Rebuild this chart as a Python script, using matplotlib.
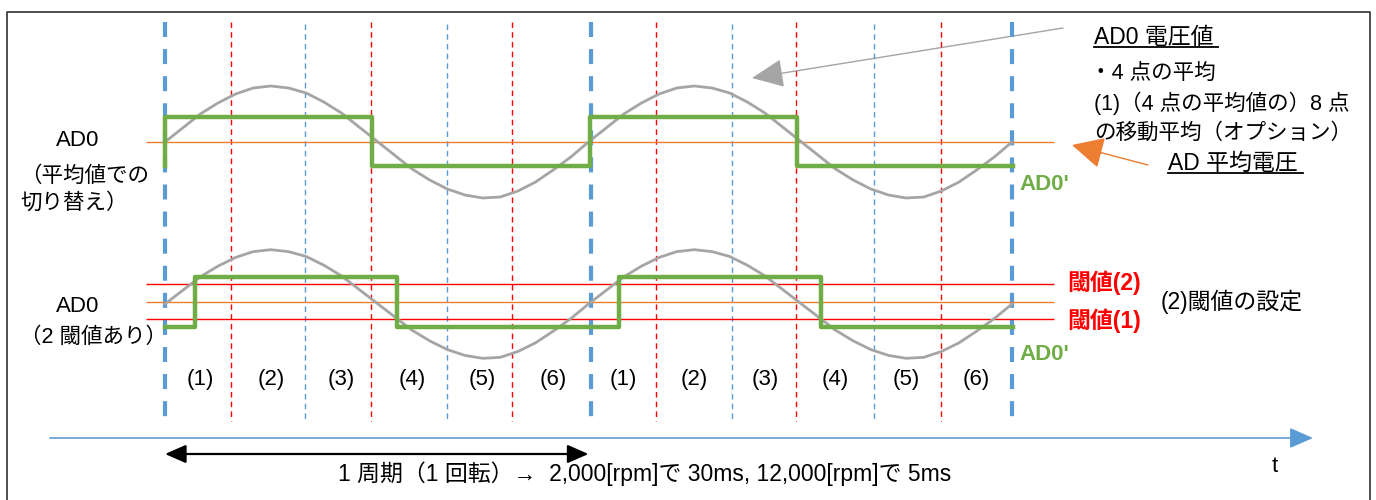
import matplotlib
matplotlib.use("Agg")
import matplotlib.pyplot as plt
import numpy as np

plt.rcParams['font.family'] = ['Liberation Sans', 'Noto Sans CJK JP', 'DejaVu Sans']

# time axis in sampling segments (6 segments = 1 revolution)
thick_t = [0.0, 6.04, 12.0]
red_t = [0.935, 2.92, 4.92, 6.96, 8.94, 10.99]
blue_t = [1.98, 4.0, 8.03, 10.05]

# one revolution of the AD0 voltage (offset from mean level), read every 0.25 segment
wave_t = [0, 0.25, 0.5, 0.75, 1, 1.25, 1.5, 1.75, 2, 2.25, 2.5, 2.75, 3,
          3.25, 3.5, 3.75, 4, 4.25, 4.5, 4.75, 5, 5.25, 5.5, 5.75, 6]
wave_v = [0, 14, 28, 39, 48, 54, 56, 54, 49, 40, 29, 15, 1,
          -13, -27, -38, -47, -53, -56, -55, -49, -40, -28, -15, 0]

# upper panel: switching at the average value
avg_level = 142
ad0_hi, ad0_lo = 117, 166
step1_t = [0, 0, 2.93, 6.02, 8.95, 12.02]
step1_v = [ad0_lo, ad0_hi, ad0_lo, ad0_hi, ad0_lo, ad0_lo]

# lower panel: two thresholds
avg2_level = 302
thr2_level, thr1_level = 284, 319
ad2_hi, ad2_lo = 277, 327
step2_t = [0, 0.43, 3.29, 6.43, 9.29, 12.02]
step2_v = [ad2_lo, ad2_hi, ad2_lo, ad2_hi, ad2_lo, ad2_lo]

seg_labels = ['(1)', '(2)', '(3)', '(4)', '(5)', '(6)'] * 2
seg_label_t = [0.5, 1.5, 2.5, 3.5, 4.5, 5.5, 6.5, 7.5, 8.5, 9.5, 10.5, 11.5]

GREEN = '#70AD47'
GRAY = '#A5A5A5'
ORANGE = '#ED7D31'
RED = '#FF0000'
BLUE = '#5B9BD5'

W, H = 1376, 500
X0, SEG = 165, 70.58

fig = plt.figure(figsize=(W / 100, H / 100), dpi=100)
ov = fig.add_axes([0, 0, 1, 1])
ov.set_xlim(0, W)
ov.set_ylim(H, 0)
ov.axis('off')
ax = fig.add_axes([0, 0, 1, 1])
ax.set_xlim(-X0 / SEG, (W - X0) / SEG)
ax.set_ylim(H, 0)
ax.axis('off')
ax.patch.set_visible(False)

# frame
ov.plot([7, 7, 1370, 1370], [510, 12, 12, 510], color='#404040', lw=1.3)

# vertical grid
ax.vlines(red_t, 22, 421, color=RED, lw=1.0, linestyles=(0, (4, 3)))
ax.vlines(blue_t, 24, 421, color=BLUE, lw=1.0, linestyles=(0, (4, 3)))
ax.vlines(thick_t, 22, 421, color=BLUE, lw=3.0, linestyles=(0, (3.6, 2.9)))

# horizontal levels
xa, xb = (146 - X0) / SEG, (1054 - X0) / SEG
ax.hlines([avg_level], xa, xb, color=ORANGE, lw=1.0)
ax.hlines([thr2_level, thr1_level], xa, xb, color=RED, lw=1.0)
ax.hlines([avg2_level], xa, xb, color=ORANGE, lw=1.0)

# AD0 waves (two revolutions)
wt = np.concatenate([wave_t, np.array(wave_t[1:]) + 6])
wv = np.concatenate([wave_v, wave_v[1:]])
ax.plot(wt, avg_level - wv, color=GRAY, lw=2.0, solid_capstyle='round')
ax.plot(wt, avg2_level + 2 - np.array(wv) * 0.97, color=GRAY, lw=2.0, solid_capstyle='round')

# AD0' steps
ax.plot(step1_t, step1_v, drawstyle='steps-post', color=GREEN, lw=3.2)
ax.plot(step2_t, step2_v, drawstyle='steps-post', color=GREEN, lw=3.2)

fs = 16
for lab, t in zip(seg_labels, seg_label_t):
    ax.text(t, 380, lab, ha='center', va='center', fontsize=fs)

# time axis and period arrow
ax.annotate('', xy=((1313 - X0) / SEG, 438), xytext=((50 - X0) / SEG, 438),
            arrowprops=dict(arrowstyle='-|>,head_length=0.8,head_width=0.35', color=BLUE,
                            lw=1.2, mutation_scale=18, shrinkA=0, shrinkB=0))
ax.annotate('', xy=(0.0, 454), xytext=(6.0, 454),
            arrowprops=dict(arrowstyle='<|-|>,head_length=0.8,head_width=0.35', color='black',
                            lw=1.6, mutation_scale=16, shrinkA=0, shrinkB=0))

ov.text(338, 474, '1 周期（1 回転）→  2,000[rpm]で 30ms, 12,000[rpm]で 5ms', ha='left', va='center', fontsize=16.5)
ov.text(1275, 467, 't', ha='center', va='center', fontsize=fs)

# left labels
ov.text(78, 140, 'AD0', ha='center', va='center', fontsize=fs)
ov.text(20, 176, '（平均値での', ha='left', va='center', fontsize=15.5)
ov.text(20, 203, '切り替え）', ha='left', va='center', fontsize=15.5)
ov.text(78, 306, 'AD0', ha='center', va='center', fontsize=fs)
ov.text(20, 337, '（2 閾値あり）', ha='left', va='center', fontsize=15.5)

# right labels
ov.text(1094, 37, 'AD0 電圧値', ha='left', va='center', fontsize=16.5)
ov.plot([1094, 1218], [47, 47], color='black', lw=1.3)
ov.text(1090, 73, '・4 点の平均', ha='left', va='center', fontsize=15.5)
ov.text(1094, 103, '(1)（4 点の平均値の）8 点', ha='left', va='center', fontsize=15.5)
ov.text(1094, 133, 'の移動平均（オプション）', ha='left', va='center', fontsize=15.5)
ov.text(1168, 163, 'AD 平均電圧', ha='left', va='center', fontsize=16.5)
ov.plot([1168, 1303], [173, 173], color='black', lw=1.3)

ov.text(1019, 185, "AD0'", ha='left', va='center', fontsize=16, color=GREEN, fontweight='bold')
ov.text(1019, 354, "AD0'", ha='left', va='center', fontsize=16, color=GREEN, fontweight='bold')
ov.text(1067, 283, '閾値(2)', ha='left', va='center', fontsize=16.5, color=RED, fontweight='bold')
ov.text(1067, 321, '閾値(1)', ha='left', va='center', fontsize=16.5, color=RED, fontweight='bold')
ov.text(1161, 302, '(2)閾値の設定', ha='left', va='center', fontsize=16.5)

# callout arrows
ov.annotate('', xy=(752, 78), xytext=(1063, 28),
            arrowprops=dict(arrowstyle='-|>,head_length=1.0,head_width=0.45', color=GRAY,
                            lw=1.0, mutation_scale=20, shrinkA=0, shrinkB=0))
ov.annotate('', xy=(1072, 145), xytext=(1148, 165),
            arrowprops=dict(arrowstyle='-|>,head_length=1.0,head_width=0.5', color=ORANGE,
                            lw=1.0, mutation_scale=20, shrinkA=0, shrinkB=0))

fig.savefig('out.png', dpi=100)
